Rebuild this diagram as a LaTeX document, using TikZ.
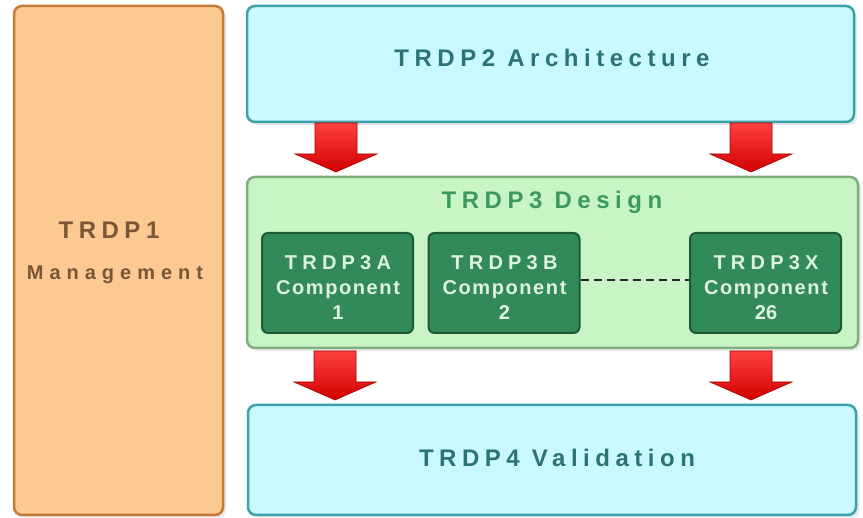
\documentclass[tikz,border=0pt]{standalone}
\usepackage{fontspec}
\setmainfont{Liberation Sans}
\newfontfamily\wideface[LetterSpace=23]{Liberation Sans}
\newfontfamily\mgmtface[LetterSpace=30]{Liberation Sans}
\newfontfamily\compface[LetterSpace=8]{Liberation Sans}
\newfontfamily\compwide[LetterSpace=26]{Liberation Sans}
\usetikzlibrary{shadows,calc}

\definecolor{orangefill}{HTML}{FDC993}
\definecolor{orangeline}{HTML}{C27A34}
\definecolor{orangetext}{HTML}{7A5634}
\definecolor{cyanfill}{HTML}{C9F9FE}
\definecolor{cyanline}{HTML}{3AA2AA}
\definecolor{cyantext}{HTML}{2C7472}
\definecolor{greenfill}{HTML}{C9F5C6}
\definecolor{greenline}{HTML}{7FAF7E}
\definecolor{greentext}{HTML}{3C9A5E}
\definecolor{compfill}{HTML}{338A59}
\definecolor{compline}{HTML}{1D5A36}
\definecolor{comptext}{HTML}{DDF3DC}
\definecolor{arrowtop}{HTML}{FF4040}
\definecolor{arrowbot}{HTML}{D10000}
\definecolor{arrowedge}{HTML}{A80000}

\tikzset{
  panel/.style={rounded corners=8pt, line width=2.5pt,
    drop shadow={shadow xshift=3pt, shadow yshift=-3pt, opacity=0.15, fill=black!60}},
  mgmtbox/.style={panel, draw=orangeline, fill=orangefill},
  cyanbox/.style={panel, draw=cyanline, fill=cyanfill},
  greenbox/.style={panel, draw=greenline, fill=greenfill},
  compbox/.style={rounded corners=6pt, line width=2pt, draw=compline, fill=compfill,
    minimum width=151pt, minimum height=100pt},
  heading/.style={anchor=base, font=\fontsize{24}{28}\selectfont\bfseries\wideface},
  comptxt/.style={align=center, text=comptext,
    font=\fontsize{20}{25}\selectfont\bfseries},
  pics/downarrow/.style={code={
    \path[top color=arrowtop, bottom color=arrowbot, draw=arrowedge, line width=0.6pt]
      (-21,0) -- (21,0) -- (21,31) -- (41,31) -- (0,49) -- (-41,31) -- (-21,31) -- cycle;
  }}
}

\begin{document}
\begin{tikzpicture}[x=1pt, y=-1pt]
\useasboundingbox[fill=white] (0,0) rectangle (863,518);

% outer boxes
\node[mgmtbox, minimum width=209pt, minimum height=509pt] (mgmt) at (118.5,260.5) {};
\node[cyanbox, minimum width=607pt, minimum height=116pt] (arch) at (550.5,64) {};
\node[greenbox, minimum width=611pt, minimum height=171pt] (design) at (552.5,262.5) {};
\node[cyanbox, minimum width=608pt, minimum height=110pt] (valid) at (552,460) {};

% flow arrows
\pic at (336,123) {downarrow};
\pic at (751,123) {downarrow};
\pic at (335,351) {downarrow};
\pic at (751,351) {downarrow};

% titles
\node[heading, text=cyantext] (archt) at (552,67) {TRDP2 Architecture};
\node[heading, text=greentext] (designt) at (552,209) {TRDP3 Design};
\node[heading, text=cyantext] (validt) at (557,467) {TRDP4 Validation};
\node[heading, text=orangetext] (mgmtt1) at (109,239) {TRDP1};
\node[anchor=base, text=orangetext, font=\fontsize{20}{24}\selectfont\bfseries\mgmtface]
  (mgmtt2) at (115,280) {Management};

% components
\node[compbox] (c1) at (337.5,283) {};
\node[compbox] (c2) at (504,283) {};
\node[compbox] (c3) at (765.5,283) {};
\node[comptxt] (c1t) at (338,288) {{\compwide TRDP3A}\\{\compface Component}\\1};
\node[comptxt] (c2t) at (504.5,288) {{\compwide TRDP3B}\\{\compface Component}\\2};
\node[comptxt] (c3t) at (766,288) {{\compwide TRDP3X}\\{\compface Component}\\26};

\draw[line width=2pt, dash pattern=on 8pt off 5pt, black!85]
  ([yshift=3pt]c2.east) -- ([yshift=3pt]c3.west);
\end{tikzpicture}
\end{document}
